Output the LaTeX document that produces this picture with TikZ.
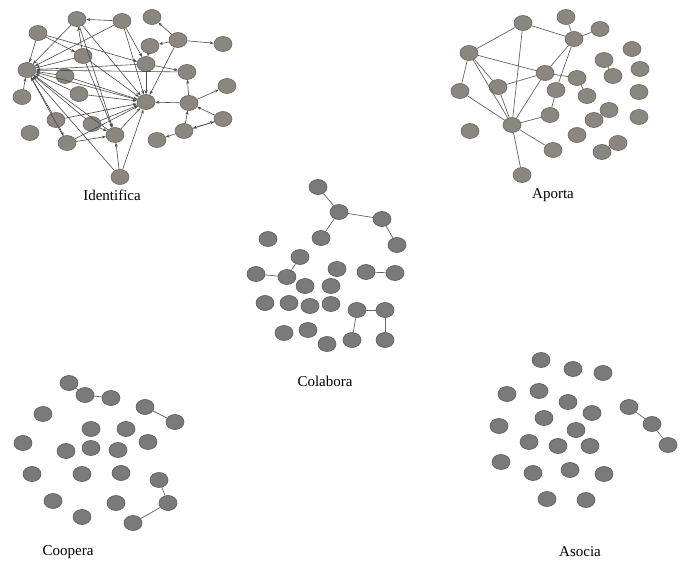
\documentclass[tikz,border=0pt]{standalone}
\usepackage{fontspec}
\setmainfont{Liberation Serif}
\usetikzlibrary{arrows.meta}
\definecolor{nfa}{HTML}{8A8680}
\definecolor{nda}{HTML}{6A665F}
\definecolor{nfb}{HTML}{7A7A7A}
\definecolor{ndb}{HTML}{5A5A5A}
\definecolor{ed}{HTML}{4A4A4A}
\tikzset{
  nda/.style={ellipse, draw=nda, fill=nfa, line width=0.6pt, minimum width=18pt, minimum height=15pt, inner sep=0pt},
  ndb/.style={ellipse, draw=ndb, fill=nfb, line width=0.6pt, minimum width=18pt, minimum height=15pt, inner sep=0pt},
  arr/.style={draw=ed, line width=0.6pt, -{Stealth[length=4pt,width=3pt]}},
  lnk/.style={draw=ed!85, line width=0.7pt},
  lbl/.style={font=\fontsize{15}{18}\selectfont, inner sep=0pt}
}
\usetikzlibrary{shapes.geometric}
\begin{document}
\begin{tikzpicture}[x=1pt,y=-1pt]
\useasboundingbox[fill=white] (0,0) rectangle (681,563);
% ---------------- Identifica ----------------
\foreach \n/\x/\y in {A/38/33,B/77/19,C/122/21,D/152/17,E/27/70,F/83/56,G/65/76,H/22/97,I/79/94,J/150/46,K/178/40,L/223/44,M/146/64,N/187/72,O/227/86,P/146/102,Q/189/103,R/56/120,S/30/133,T/92/124,U/67/143,V/115/135,W/223/119,X/184/131,Y/157/140,Z/120/177}
  \node[nda] (i\n) at (\x,\y) {};
\foreach \s/\t in {A/E,B/E,C/E,F/E,M/E,N/E,G/E,I/E,R/E,U/E,T/E,V/E,Z/E,H/E,P/E,
  A/F,C/B,F/B,B/P,B/V,C/M,C/P,K/D,K/J,K/L,K/P,J/M,M/N,M/P,Q/P,Q/N,Q/O,W/Q,X/W,W/X,X/Q,X/Y,
  I/P,R/U,R/P,G/P,U/V,T/V,T/P,U/P,V/P,Z/V,Z/P,F/P,F/V,A/M}
  \draw[arr] (i\s) -- (i\t);
\node[lbl] (lid) at (112,195) {Identifica};
% ---------------- Aporta ----------------
\foreach \n/\x/\y in {1/523/23,2/469/53,3/545/73,4/460/91,5/498/87,6/512/125,7/470/131,8/522/175,9/550/115,10/553/150,11/566/17,12/600/29,13/574/39,14/632/49,15/604/60,16/640/69,17/613/76,18/577/78,19/556/90,20/587/96,21/639/92,22/609/110,23/594/120,24/639/117,25/577/135,26/618/143,27/602/152}
  \node[nda] (a\n) at (\x,\y) {};
\foreach \s/\t in {1/2,1/6,1/13,2/4,2/3,2/5,2/6,4/6,5/3,5/6,3/6,6/9,6/10,6/8,11/13,12/13,13/3,13/19,3/18,18/20,19/9,15/17,22/23,26/27}
  \draw[lnk] (a\s) -- (a\t);
\node[lbl] (lap) at (553,195) {Aporta};
% ---------------- Colabora ----------------
\foreach \n/\x/\y in {1/318/187,2/339/212,3/382/219,4/321/238,5/397/245,6/268/239,7/300/257,8/256/274,9/287/277,10/337/269,11/366/272,12/395/273,13/305/286,14/331/286,15/265/303,16/289/303,17/310/306,18/331/304,19/357/310,20/385/310,21/284/333,22/308/330,23/327/344,24/352/340,25/385/340}
  \node[ndb] (c\n) at (\x,\y) {};
\foreach \s/\t in {1/2,2/3,2/4,3/5,7/9,8/9,11/12,19/20,19/24,20/25}
  \draw[lnk] (c\s) -- (c\t);
\node[lbl] (lco) at (325,381) {Colabora};
% ---------------- Coopera ----------------
\foreach \n/\x/\y in {1/69/383,2/85/395,3/111/398,4/145/407,5/175/422,6/43/414,7/91/429,8/126/429,9/23/443,10/66/451,11/91/448,12/118/450,13/148/442,14/32/474,15/82/474,16/121/473,17/159/480,18/53/501,19/116/503,20/168/503,21/82/517,22/133/523}
  \node[ndb] (p\n) at (\x,\y) {};
\foreach \s/\t in {1/2,2/3,4/5,17/20,20/22}
  \draw[lnk] (p\s) -- (p\t);
\node[lbl] (lcp) at (68,552) {Coopera};
% ---------------- Asocia ----------------
\foreach \n/\x/\y in {1/541/360,2/573/369,3/603/373,4/507/394,5/539/391,6/568/402,7/592/413,8/629/407,9/652/424,10/668/445,11/499/426,12/544/418,13/576/430,14/529/442,15/558/446,16/590/446,17/501/462,18/533/473,19/570/470,20/604/474,21/547/499,22/586/500}
  \node[ndb] (s\n) at (\x,\y) {};
\foreach \s/\t in {8/9,9/10}
  \draw[lnk] (s\s) -- (s\t);
\node[lbl] (las) at (580,552) {Asocia};
\end{tikzpicture}
\end{document}
